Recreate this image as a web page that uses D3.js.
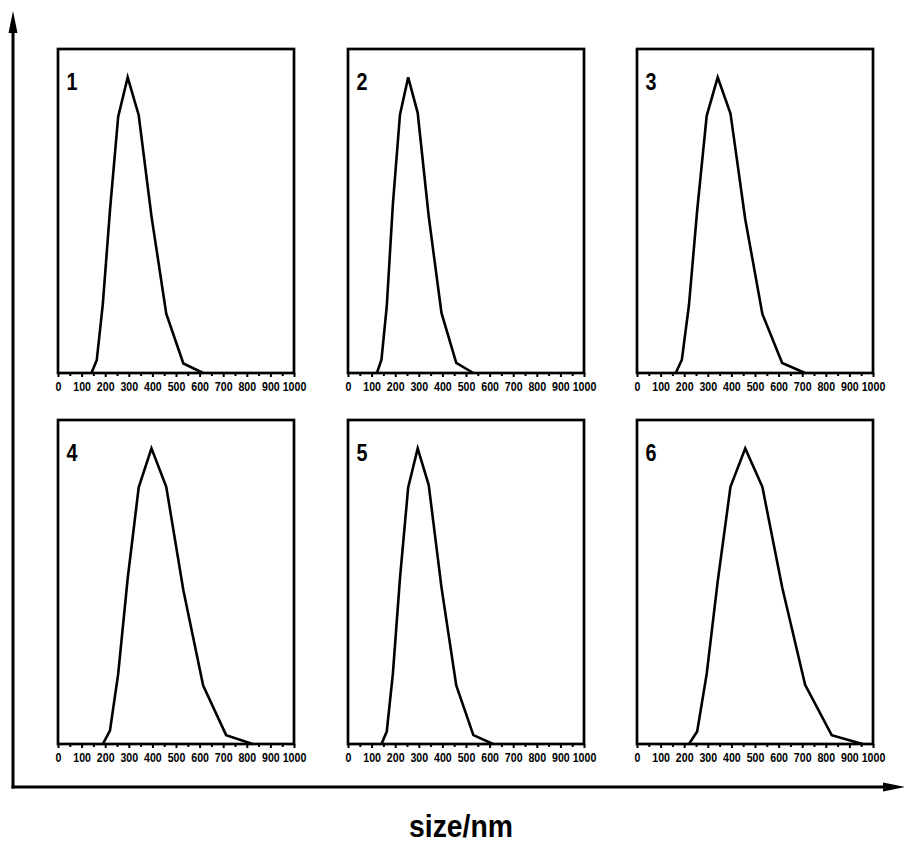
<!DOCTYPE html>
<html>
<head>
<meta charset="utf-8">
<script src="https://cdn.jsdelivr.net/npm/d3@7"></script>
<style>
  body { margin: 0; background: #fff; }
  svg { display: block; }
</style>
</head>
<body>
<svg id="chart" width="904" height="843"></svg>
<script>
// size bins (nm) and intensity (%) for each sample
const size1 = [141.8, 164.2, 190.1, 220.2, 255.0, 295.3, 342.0, 396.1, 458.7, 531.2, 615.1]
const int1  = [0, 4.3, 23.5, 55, 86.7, 100, 87.2, 53, 20.1, 3.2, 0]

const size2 = [122.4, 141.8, 164.2, 190.1, 220.2, 255.0, 295.3, 342.0, 396.1, 458.7, 531.2]
const int2  = [0, 4.5, 22.5, 57, 87.4, 100, 88, 53, 20.3, 3.4, 0]

const size3 = [164.2, 190.1, 220.2, 255.0, 295.3, 342.0, 396.1, 458.7, 531.2, 615.1, 712.4]
const int3  = [0, 4.5, 23, 55, 87, 100, 87.8, 52, 20, 3.4, 0]

const size4 = [190.1, 220.2, 255.0, 295.3, 342.0, 396.1, 458.7, 531.2, 615.1, 712.4, 825.0]
const int4  = [0, 4.5, 23.7, 56, 86.8, 100, 87, 52, 19.8, 3, 0]

const size5 = [141.8, 164.2, 190.1, 220.2, 255.0, 295.3, 342.0, 396.1, 458.7, 531.2, 615.1]
const int5  = [0, 4.2, 23.7, 56, 86.8, 100, 87.6, 53, 19.8, 3, 0]

const size6 = [220.2, 255.0, 295.3, 342.0, 396.1, 458.7, 531.2, 615.1, 712.4, 825.0, 955.4]
const int6  = [0, 4.2, 23.7, 55, 87, 100, 87, 53, 20, 3, 0]

const panelLabels = ['1', '2', '3', '4', '5', '6']
const xTicks = [0, 100, 200, 300, 400, 500, 600, 700, 800, 900, 1000]
const xMinorTicks = [50, 150, 250, 350, 450, 550, 650, 750, 850, 950]
const axisTitle = 'size/nm'

const samples = [
    {x: size1, y: int1}, {x: size2, y: int2}, {x: size3, y: int3},
    {x: size4, y: int4}, {x: size5, y: int5}, {x: size6, y: int6}
]

const font = '"Liberation Sans", Arial, sans-serif'
const svg = d3.select('#chart')

// panel layout
const colX = [58, 348, 637]
const rowY = [49, 420]
const pw = 236
const ph = 324

const xScale = d3.scaleLinear().domain([0, 1000]).range([0, pw])
const yScale = d3.scaleLinear().domain([0, 109.6]).range([ph, 0])

const line = d3.line()
    .x(d => xScale(d[0]))
    .y(d => yScale(d[1]))

samples.forEach((s, i) => {
    const g = svg.append('g')
        .attr('transform', `translate(${colX[i % 3]},${rowY[Math.floor(i / 3)]})`)

    // minor ticks
    g.append('g')
        .attr('transform', `translate(0,${ph})`)
        .call(d3.axisBottom(xScale).tickValues(xMinorTicks).tickSize(3).tickFormat(''))
        .call(a => a.select('.domain').remove())
        .selectAll('line').attr('stroke-width', 2)

    // major ticks + labels
    const ax = g.append('g')
        .attr('transform', `translate(0,${ph})`)
        .call(d3.axisBottom(xScale).tickValues(xTicks).tickSize(4).tickSizeOuter(0).tickPadding(5).tickFormat(d3.format('d')))
    ax.select('.domain').remove()
    ax.selectAll('line').attr('stroke-width', 2)
    ax.selectAll('text')
        .attr('fill', '#000')
        .style('font-family', font)
        .style('font-weight', 'bold')
        .style('font-size', '13px')
        .attr('textLength', d => String(d).length * 5.9)
        .attr('lengthAdjust', 'spacingAndGlyphs')

    // frame
    g.append('rect')
        .attr('width', pw)
        .attr('height', ph)
        .attr('fill', 'none')
        .attr('stroke', '#000')
        .attr('stroke-width', 2.7)

    // distribution curve
    g.append('path')
        .datum(d3.zip(s.x, s.y))
        .attr('d', line)
        .attr('fill', 'none')
        .attr('stroke', '#000')
        .attr('stroke-width', 2.6)
        .attr('stroke-linejoin', 'miter')

    g.append('text')
        .attr('x', 8.5)
        .attr('y', 41)
        .attr('textLength', 11)
        .attr('lengthAdjust', 'spacingAndGlyphs')
        .text(panelLabels[i])
        .style('font-family', font)
        .style('font-weight', 'bold')
        .style('font-size', '24px')
})

// big outer axes with arrows
svg.append('line')
    .attr('x1', 13).attr('y1', 788.5)
    .attr('x2', 13).attr('y2', 28)
    .attr('stroke', '#000').attr('stroke-width', 3)
svg.append('path')
    .attr('d', 'M13,11 L8.5,33 L17.5,33 Z')
    .attr('fill', '#000')

svg.append('line')
    .attr('x1', 11.5).attr('y1', 787)
    .attr('x2', 888).attr('y2', 787)
    .attr('stroke', '#000').attr('stroke-width', 3)
svg.append('path')
    .attr('d', 'M905,787 L883,782.5 L883,791.5 Z')
    .attr('fill', '#000')

svg.append('text')
    .attr('x', 461)
    .attr('y', 837)
    .attr('text-anchor', 'middle')
    .attr('textLength', 104)
    .attr('lengthAdjust', 'spacingAndGlyphs')
    .text(axisTitle)
    .style('font-family', font)
    .style('font-weight', 'bold')
    .style('font-size', '32px')
</script>
</body>
</html>
